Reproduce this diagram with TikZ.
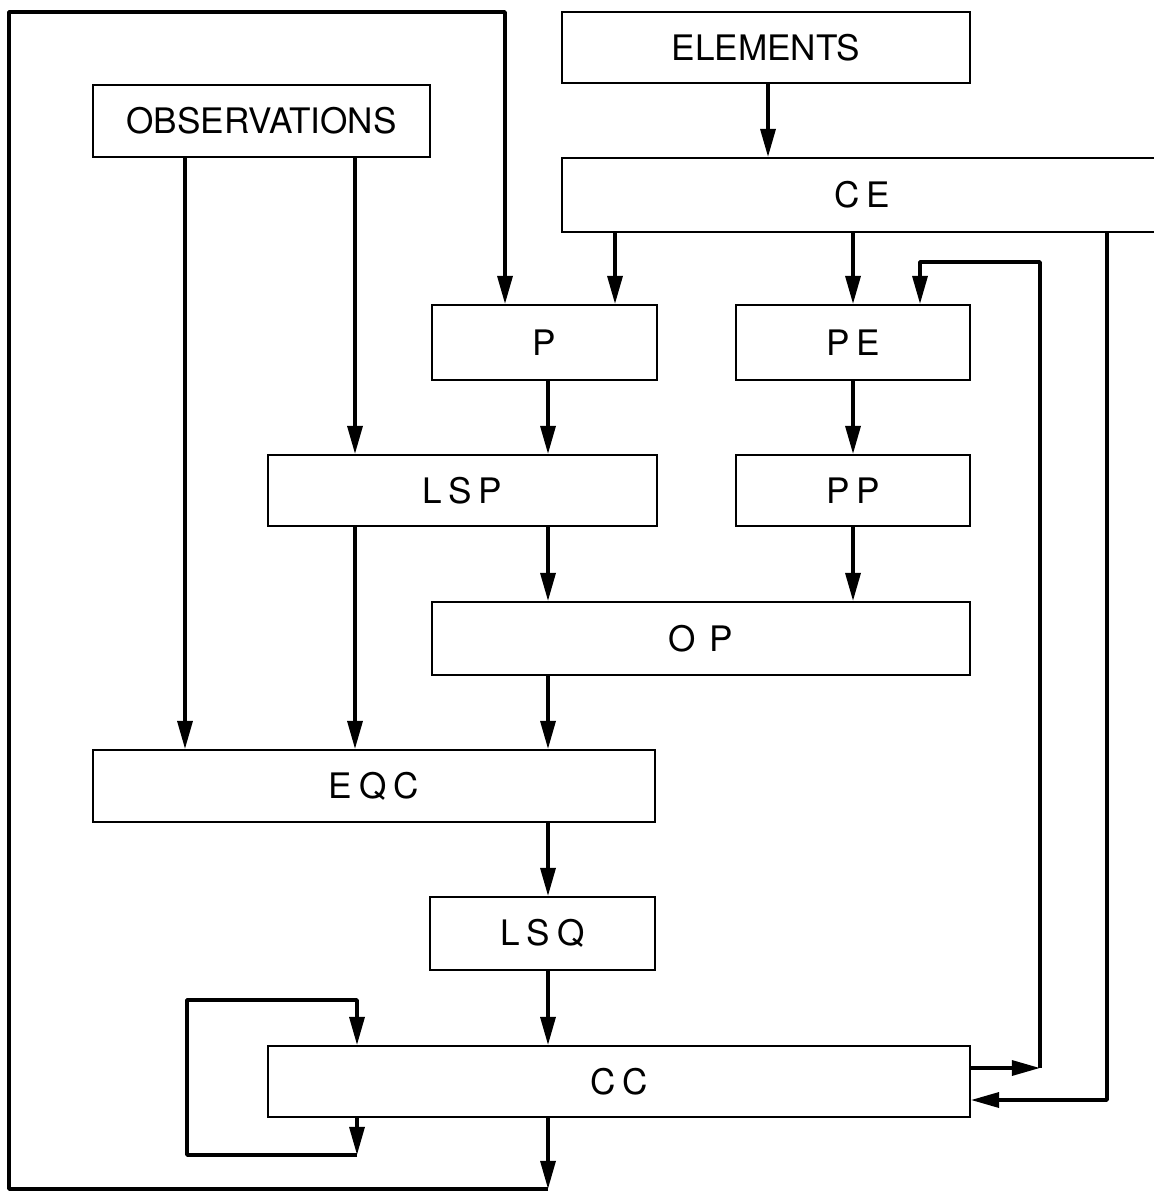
\documentclass[tikz,border=0pt]{standalone}
\usepackage{fontspec}
\setmainfont{TeX Gyre Heros}
\usetikzlibrary{arrows.meta}
\begin{document}
\begin{tikzpicture}[x=0.02cm,y=-0.02cm,
  box/.style={draw,line width=1.1pt,rectangle,inner sep=0pt,font=\fontsize{20}{22}\selectfont},
  wide/.style={box,font=\fontsize{20}{22}\selectfont\addfontfeatures{LetterSpace=20}},
  arr/.style={line width=2pt,line join=round,-{Triangle[length=16pt,width=8.5pt]}},
  ln/.style={line width=2pt,line join=round}]
\useasboundingbox (0,0) rectangle (1153,1192);
% boxes
\node[box,minimum width=8.16cm,minimum height=1.42cm] (EL) at (766,47.5) {ELEMENTS};
\node[box,minimum width=6.74cm,minimum height=1.44cm] (OBS) at (261.5,121) {OBSERVATIONS};
\node[wide,minimum width=12cm,minimum height=1.48cm] (CE) at (862,195) {CE};
\node[wide,minimum width=4.5cm,minimum height=1.5cm] (P) at (544.5,342.5) {P};
\node[wide,minimum width=4.68cm,minimum height=1.5cm] (PE) at (853,342.5) {PE};
\node[wide,minimum width=7.78cm,minimum height=1.42cm] (LSP) at (462.5,490.5) {LSP};
\node[wide,minimum width=4.68cm,minimum height=1.42cm] (PP) at (853,490.5) {PP};
\node[wide,minimum width=10.76cm,minimum height=1.46cm] (OP) at (701,638.5) {O\hspace{8pt}P};
\node[wide,minimum width=11.24cm,minimum height=1.44cm] (EQC) at (374,786) {EQC};
\node[wide,minimum width=4.5cm,minimum height=1.46cm] (LSQ) at (542.5,933.5) {LSQ};
\node[wide,minimum width=14.04cm,minimum height=1.42cm] (CC) at (619,1081.5) {CC};
% column coordinates
\coordinate (x185) at (185,0);
\coordinate (x355) at (355,0);
\coordinate (x548) at (548,0);
\coordinate (x615) at (615,0);
\coordinate (x768) at (768,0);
\coordinate (x853) at (853,0);
\coordinate (x920) at (920,0);
\coordinate (x505) at (505,0);
\coordinate (x357) at (357,0);
\coordinate (x1107) at (1107,0);
\coordinate (bot) at (548,1189);
\coordinate (r1) at (1040,1068);
\coordinate (r2) at (1107,1100);
\coordinate (l1) at (357,1155);
% connectors
\draw[arr] (EL.south -| x768) -- (CE.north -| x768);
\draw[arr] (OBS.south -| x185) -- (EQC.north -| x185);
\draw[arr] (OBS.south -| x355) -- (LSP.north -| x355);
\draw[arr] (LSP.south -| x355) -- (EQC.north -| x355);
\draw[arr] (CE.south -| x615) -- (P.north -| x615);
\draw[arr] (CE.south -| x853) -- (PE.north -| x853);
\draw[arr] (P.south -| x548) -- (LSP.north -| x548);
\draw[arr] (PE.south -| x853) -- (PP.north -| x853);
\draw[arr] (LSP.south -| x548) -- (OP.north -| x548);
\draw[arr] (PP.south -| x853) -- (OP.north -| x853);
\draw[arr] (OP.south -| x548) -- (EQC.north -| x548);
\draw[arr] (EQC.south -| x548) -- (LSQ.north -| x548);
\draw[arr] (LSQ.south -| x548) -- (CC.north -| x548);
% outer frame from CC back to P
\draw[arr] (CC.south -| bot) -- (bot);
\draw[arr] (bot) -- (9,1189) -- (9,12) -- (505,12) -- (P.north -| x505);
% CC self loop
\draw[arr] (CC.south -| l1) -- (l1);
\draw[arr] (l1) -- (187,1155) -- (187,1000) -- (357,1000) -- (CC.north -| x357);
% CC back to PE
\draw[arr] (CC.east |- r1) -- (r1);
\draw[arr] (r1) -- (1040,262) -- (920,262) -- (PE.north -| x920);
% CE to CC
\draw[arr] (CE.south -| x1107) -- (r2) -- (CC.east |- r2);
\end{tikzpicture}
\end{document}
